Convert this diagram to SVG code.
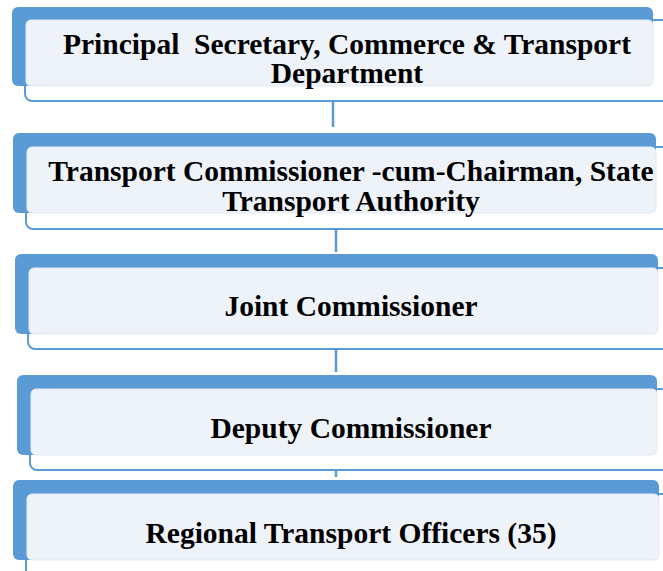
<svg xmlns="http://www.w3.org/2000/svg" width="663" height="571" viewBox="0 0 663 571">
<style>
.outline{fill:#ffffff;stroke:#5B9BD5;stroke-width:2}
.back{fill:#5B9BD5}
.front{fill:#EEF2F9;stroke:#E3EAF5;stroke-width:1}
.conn{stroke:#5B9BD5;stroke-width:2.5;fill:none}
.connf{stroke:#E3EAF5;stroke-width:2.5;fill:none}
text{font-family:"Liberation Serif","Times New Roman",serif;font-weight:bold;font-size:29.5px;fill:#000;text-anchor:middle;white-space:pre}
</style>
<rect width="663" height="571" fill="#ffffff"/>
<g id="connectors">
<line class="connf" x1="333" y1="88" x2="333" y2="101"/>
<line class="conn" x1="333" y1="101" x2="333" y2="127"/>
<line class="connf" x1="336" y1="215" x2="336" y2="229"/>
<line class="conn" x1="336" y1="229" x2="336" y2="252"/>
<line class="connf" x1="336" y1="337" x2="336" y2="349"/>
<line class="conn" x1="336" y1="349" x2="336" y2="372"/>
<line class="connf" x1="336" y1="458" x2="336" y2="470"/>
<line class="conn" x1="336" y1="470" x2="336" y2="477"/>
</g>
<g id="node1">
<rect class="outline" x="25" y="20" width="680" height="81" rx="7"/>
<rect class="back" x="12" y="7" width="641" height="79" rx="6"/>
<rect class="front" x="26" y="20" width="627" height="66" rx="5"/>
<text x="347" y="54" xml:space="preserve">Principal  Secretary, Commerce &amp; Transport</text>
<text x="347" y="83">Department</text>
</g>
<g id="node2">
<rect class="outline" x="26" y="147" width="680" height="82" rx="7"/>
<rect class="back" x="13" y="133" width="643" height="80" rx="6"/>
<rect class="front" x="27" y="147" width="629" height="66" rx="5"/>
<text x="351" y="181">Transport Commissioner -cum-Chairman, State</text>
<text x="351" y="211">Transport Authority</text>
</g>
<g id="node3">
<rect class="outline" x="28" y="268" width="680" height="81" rx="7"/>
<rect class="back" x="15" y="254" width="643" height="80" rx="6"/>
<rect class="front" x="29" y="268" width="629" height="66" rx="5"/>
<text x="351" y="316">Joint Commissioner</text>
</g>
<g id="node4">
<rect class="outline" x="30" y="389" width="680" height="81" rx="7"/>
<rect class="back" x="17" y="375" width="640" height="80" rx="6"/>
<rect class="front" x="31" y="389" width="626" height="66" rx="5"/>
<text x="351" y="438">Deputy Commissioner</text>
</g>
<g id="node5">
<rect class="outline" x="26" y="494" width="680" height="100" rx="7"/>
<rect class="back" x="13" y="480" width="646" height="80" rx="6"/>
<rect class="front" x="27" y="494" width="632" height="66" rx="5"/>
<text x="351" y="543">Regional Transport Officers (35)</text>
</g>
</svg>
